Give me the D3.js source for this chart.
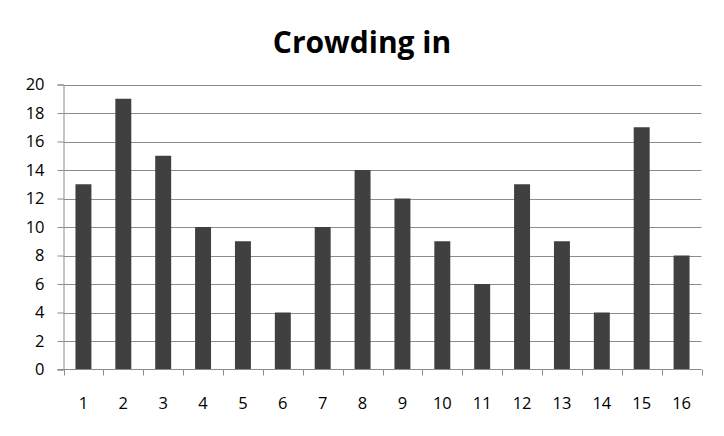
<!DOCTYPE html>
<html>
<head>
<meta charset="utf-8">
<script src="https://cdn.jsdelivr.net/npm/d3@7"></script>
<style>
  html, body { margin: 0; padding: 0; background: #fff; }
  svg { display: block; }
</style>
</head>
<body>
<svg id="chart" width="724" height="436"></svg>
<script>
const categories = ["1","2","3","4","5","6","7","8","9","10","11","12","13","14","15","16"];
const values = [13, 19, 15, 10, 9, 4, 10, 14, 12, 9, 6, 13, 9, 4, 17, 8];
const yTicks = [0, 2, 4, 6, 8, 10, 12, 14, 16, 18, 20];
const title = "Crowding in";

(function draw() {
  const svg = d3.select("#chart");
  const font = "'Open Sans', 'Noto Sans', sans-serif";
  const plotLeft = 63.5, plotRight = 701.5, plotTop = 84.5, plotBottom = 369.5;

  const x = d3.scaleBand().domain(categories).range([plotLeft, plotRight]).paddingInner(0.6).paddingOuter(0.3);
  const y = d3.scaleLinear().domain([0, 20]).range([plotBottom, plotTop]);

  // title
  svg.append("text")
    .attr("x", 362).attr("y", 53)
    .attr("text-anchor", "middle")
    .attr("font-family", font)
    .attr("font-weight", "bold")
    .attr("font-size", 30)
    .attr("fill", "#000")
    .text(title);

  // horizontal gridlines
  svg.append("g").selectAll("line")
    .data(yTicks.filter(d => d > 0))
    .join("line")
    .attr("x1", plotLeft).attr("x2", plotRight)
    .attr("y1", d => Math.round(y(d)) + 0.5).attr("y2", d => Math.round(y(d)) + 0.5)
    .attr("stroke", "#8c8c8c").attr("stroke-width", 1);

  // bars
  svg.append("g").selectAll("rect")
    .data(values)
    .join("rect")
    .attr("x", (d, i) => x(categories[i]))
    .attr("width", x.bandwidth())
    .attr("y", d => y(d))
    .attr("height", d => y(0) - y(d))
    .attr("fill", "#404040");

  // y axis
  const yAxis = d3.axisLeft(y).tickValues(yTicks).tickSize(6).tickPadding(13);
  const gy = svg.append("g").attr("transform", `translate(${plotLeft},0)`).call(yAxis);
  gy.attr("font-size", null).attr("font-family", null);
  gy.select(".domain").attr("stroke", "#8c8c8c");
  gy.selectAll(".tick line").attr("stroke", "#8c8c8c");
  gy.selectAll(".tick text")
    .style("font-family", font).style("font-size", "16.5px").attr("fill", "#000");

  // x axis with tick marks between categories
  const gx = svg.append("g");
  gx.append("line")
    .attr("x1", plotLeft - 6).attr("x2", plotRight)
    .attr("y1", plotBottom).attr("y2", plotBottom)
    .attr("stroke", "#8c8c8c");
  gx.selectAll("line.sep")
    .data(d3.range(categories.length + 1))
    .join("line")
    .attr("class", "sep")
    .attr("x1", i => Math.round(plotLeft + i * (plotRight - plotLeft) / categories.length) + 0.5)
    .attr("x2", i => Math.round(plotLeft + i * (plotRight - plotLeft) / categories.length) + 0.5)
    .attr("y1", plotBottom).attr("y2", plotBottom + 6)
    .attr("stroke", "#8c8c8c");
  gx.selectAll("text")
    .data(categories)
    .join("text")
    .attr("x", d => x(d) + x.bandwidth() / 2)
    .attr("y", 409)
    .attr("text-anchor", "middle")
    .style("font-family", font)
    .style("font-size", "16.5px")
    .attr("fill", "#000")
    .text(d => d);
})();
</script>
</body>
</html>
